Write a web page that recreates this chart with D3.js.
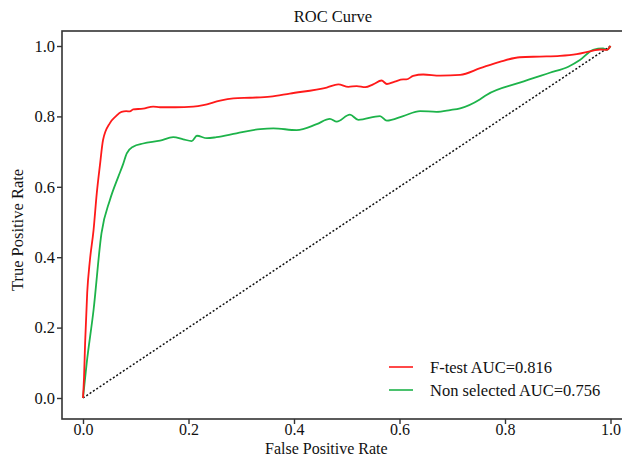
<!DOCTYPE html>
<html>
<head>
<meta charset="utf-8">
<script src="https://cdn.jsdelivr.net/npm/d3@7"></script>
<style>
  html, body { margin: 0; padding: 0; background: #fff; }
  svg { display: block; }
  text { font-family: "Liberation Serif", "Times New Roman", serif; fill: #111; }
</style>
</head>
<body>
<svg id="chart" width="622" height="457"></svg>
<script>
const title = "ROC Curve";
const xLabel = "False Positive Rate";
const yLabel = "True Positive Rate";
const tickValues = [0, 0.2, 0.4, 0.6, 0.8, 1.0];
const seriesNames = ["F-test AUC=0.816", "Non selected AUC=0.756"];
const seriesColors = ["#ff1a1a", "#1db34a"];

const ftestFPR = [0,0.002,0.004,0.008,0.013,0.02,0.026,0.032,0.038,0.051,0.062,0.073,0.082,0.089,0.095,0.114,0.133,0.146,0.175,0.209,0.228,0.26,0.285,0.317,0.355,0.392,0.462,0.484,0.503,0.519,0.535,0.55,0.566,0.576,0.591,0.607,0.613,0.626,0.645,0.677,0.715,0.753,0.79,0.828,0.866,0.904,0.936,0.967,0.98,0.993,1];
const ftestTPR = [0,0.06,0.156,0.30,0.39,0.477,0.58,0.66,0.733,0.781,0.80,0.813,0.815,0.814,0.82,0.822,0.828,0.826,0.826,0.828,0.832,0.845,0.851,0.853,0.856,0.865,0.882,0.891,0.884,0.886,0.883,0.891,0.902,0.892,0.899,0.905,0.905,0.915,0.919,0.916,0.918,0.937,0.955,0.968,0.970,0.972,0.977,0.987,0.99,0.989,1];

const nonselFPR = [0,0.007,0.02,0.035,0.051,0.067,0.075,0.083,0.095,0.114,0.146,0.171,0.19,0.206,0.216,0.235,0.253,0.291,0.336,0.361,0.405,0.443,0.468,0.481,0.506,0.522,0.563,0.576,0.607,0.639,0.67,0.696,0.715,0.753,0.765,0.828,0.885,0.92,0.942,0.967,0.986,0.993,1];
const nonselTPR = [0,0.099,0.25,0.468,0.5625,0.629,0.66,0.695,0.714,0.723,0.731,0.741,0.735,0.730,0.745,0.738,0.741,0.752,0.764,0.766,0.761,0.778,0.793,0.785,0.805,0.790,0.801,0.788,0.801,0.815,0.813,0.818,0.823,0.849,0.861,0.896,0.924,0.941,0.960,0.989,0.993,0.989,1];

const diagFPR = [0, 1];
const diagTPR = [0, 1];

const svg = d3.select("#chart");
const frame = { left: 62, right: 640, top: 31, bottom: 419 };
const x = d3.scaleLinear().domain([0, 1]).range([83, 610.5]);
const y = d3.scaleLinear().domain([0, 1]).range([398, 46]);

// frame
svg.append("rect")
  .attr("x", frame.left).attr("y", frame.top)
  .attr("width", frame.right - frame.left).attr("height", frame.bottom - frame.top)
  .attr("fill", "none").attr("stroke", "#333").attr("stroke-width", 1.6);

// title
svg.append("text").attr("x", 333).attr("y", 22).attr("text-anchor", "middle")
  .attr("font-size", "16.5px").text(title);

// axes
const fmt = d3.format(".1f");
const xAxis = svg.append("g").attr("transform", `translate(0,${frame.bottom})`)
  .call(d3.axisBottom(x).tickValues(tickValues).tickFormat(fmt).tickSize(5).tickSizeOuter(0).tickPadding(0));
const yAxis = svg.append("g").attr("transform", `translate(${frame.left},0)`)
  .call(d3.axisLeft(y).tickValues(tickValues).tickFormat(fmt).tickSize(5).tickSizeOuter(0).tickPadding(2));
[xAxis, yAxis].forEach(g => {
  g.select(".domain").remove();
  g.selectAll(".tick line").attr("stroke", "#333").attr("stroke-width", 1.4);
  g.selectAll(".tick text").attr("font-family", "Liberation Serif").attr("fill", "#111");
});
xAxis.selectAll(".tick text").attr("font-size", "16px");
yAxis.selectAll(".tick text").attr("font-size", "16.5px");

// axis labels
svg.append("text").attr("x", 265).attr("y", 453.5).attr("font-size", "16px").text(xLabel);
svg.append("text").attr("transform", "translate(23,230) rotate(-90)")
  .attr("text-anchor", "middle").attr("font-size", "16.5px").text(yLabel);

// lines
const line = d3.line().x(d => x(d[0])).y(d => y(d[1])).curve(d3.curveMonotoneX);
svg.append("path").datum(d3.zip(diagFPR, diagTPR)).attr("d", d3.line().x(d => x(d[0])).y(d => y(d[1])))
  .attr("fill", "none").attr("stroke", "#111").attr("stroke-width", 1.5).attr("stroke-dasharray", "2,2");
svg.append("path").datum(d3.zip(nonselFPR, nonselTPR)).attr("d", line)
  .attr("fill", "none").attr("stroke", seriesColors[1]).attr("stroke-width", 1.8);
svg.append("path").datum(d3.zip(ftestFPR, ftestTPR)).attr("d", line)
  .attr("fill", "none").attr("stroke", seriesColors[0]).attr("stroke-width", 1.8);

// legend
const legendY = [367, 390];
seriesNames.forEach((name, i) => {
  svg.append("line").attr("x1", 389).attr("x2", 413).attr("y1", legendY[i]).attr("y2", legendY[i])
    .attr("stroke", seriesColors[i]).attr("stroke-width", 1.6);
  svg.append("text").attr("x", 430).attr("y", legendY[i] + 5.5).attr("font-size", "16.5px").text(name);
});
</script>
</body>
</html>
